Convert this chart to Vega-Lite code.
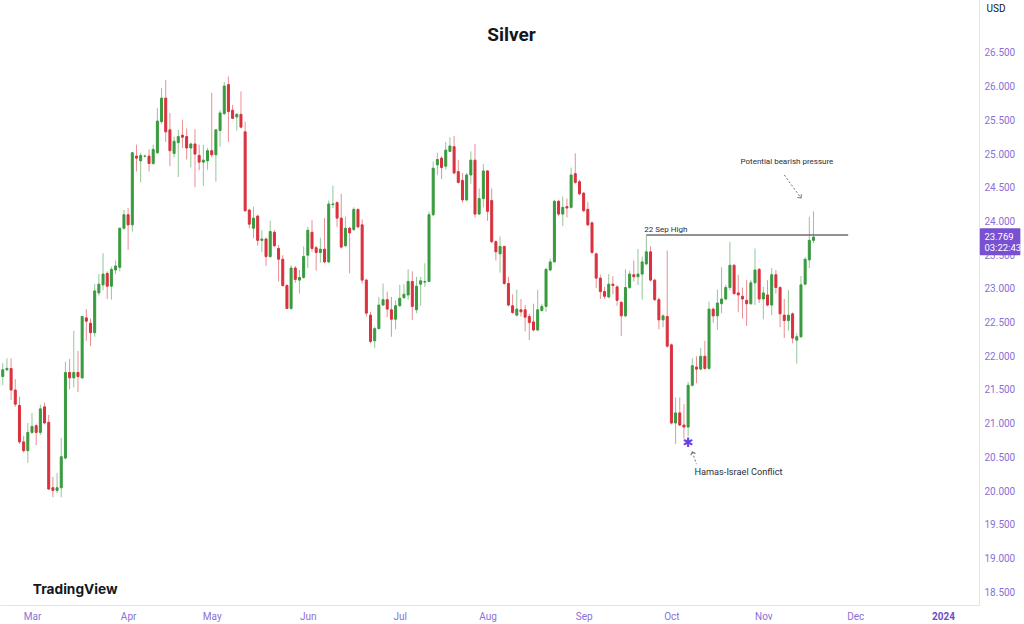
{
"$schema": "https://vega.github.io/schema/vega-lite/v6.json",
"width": 979, "height": 605,
"autosize": {"type": "none"},
"padding": {"left": 0, "top": 0, "right": 45, "bottom": 19},
"background": "#ffffff",
"config": {"view": {"stroke": null}, "font": "Roboto", "scale": {"continuousPadding": 0}, "axis": {"labelOverlap": false, "labelFlush": false, "ticks": false, "grid": false, "labelSeparation": 0}},
"title": {"text": "Silver", "fontSize": 19, "fontWeight": "bold", "font": "Roboto", "color": "#131722", "anchor": "middle", "frame": "group", "offset": 0, "dx": 22, "dy": 60, "baseline": "alphabetic"},
"data": {"values": [
{"d":"2023-02-17","o":21.55,"h":21.75,"l":21.50,"c":21.70},
{"d":"2023-02-20","o":21.70,"h":21.90,"l":21.57,"c":21.80},
{"d":"2023-02-21","o":21.80,"h":21.97,"l":21.78,"c":21.82},
{"d":"2023-02-22","o":21.82,"h":21.97,"l":21.35,"c":21.50},
{"d":"2023-02-23","o":21.50,"h":21.66,"l":21.25,"c":21.29},
{"d":"2023-02-24","o":21.27,"h":21.40,"l":20.70,"c":20.73},
{"d":"2023-02-27","o":20.73,"h":20.82,"l":20.57,"c":20.60},
{"d":"2023-02-28","o":20.60,"h":21.01,"l":20.42,"c":20.87},
{"d":"2023-03-01","o":20.87,"h":21.16,"l":20.85,"c":20.96},
{"d":"2023-03-02","o":20.97,"h":21.00,"l":20.68,"c":20.87},
{"d":"2023-03-03","o":20.87,"h":21.28,"l":20.83,"c":21.22},
{"d":"2023-03-06","o":21.25,"h":21.31,"l":20.99,"c":21.01},
{"d":"2023-03-07","o":21.02,"h":21.13,"l":20.02,"c":20.03},
{"d":"2023-03-08","o":20.05,"h":20.21,"l":19.91,"c":20.01},
{"d":"2023-03-09","o":20.01,"h":20.27,"l":19.97,"c":20.05},
{"d":"2023-03-10","o":20.05,"h":20.79,"l":19.91,"c":20.51},
{"d":"2023-03-13","o":20.49,"h":21.92,"l":20.47,"c":21.76},
{"d":"2023-03-14","o":21.76,"h":21.96,"l":21.51,"c":21.68},
{"d":"2023-03-15","o":21.68,"h":22.38,"l":21.54,"c":21.76},
{"d":"2023-03-16","o":21.76,"h":22.08,"l":21.47,"c":21.70},
{"d":"2023-03-17","o":21.68,"h":22.60,"l":21.66,"c":22.59},
{"d":"2023-03-20","o":22.57,"h":22.70,"l":22.23,"c":22.52},
{"d":"2023-03-21","o":22.49,"h":22.56,"l":22.15,"c":22.35},
{"d":"2023-03-22","o":22.35,"h":23.07,"l":22.29,"c":22.97},
{"d":"2023-03-23","o":22.94,"h":23.22,"l":22.90,"c":23.07},
{"d":"2023-03-24","o":23.06,"h":23.53,"l":22.98,"c":23.22},
{"d":"2023-03-27","o":23.23,"h":23.26,"l":22.85,"c":23.04},
{"d":"2023-03-28","o":23.04,"h":23.33,"l":22.84,"c":23.29},
{"d":"2023-03-29","o":23.28,"h":23.42,"l":23.22,"c":23.34},
{"d":"2023-03-30","o":23.32,"h":23.91,"l":23.26,"c":23.90},
{"d":"2023-03-31","o":23.90,"h":24.17,"l":23.88,"c":24.10},
{"d":"2023-04-03","o":24.10,"h":24.20,"l":23.58,"c":23.95},
{"d":"2023-04-04","o":23.95,"h":25.03,"l":23.85,"c":25.02},
{"d":"2023-04-05","o":24.97,"h":25.14,"l":24.74,"c":24.94},
{"d":"2023-04-06","o":24.90,"h":25.02,"l":24.58,"c":24.98},
{"d":"2023-04-07","o":24.97,"h":24.99,"l":24.95,"c":24.97},
{"d":"2023-04-10","o":24.97,"h":25.07,"l":24.74,"c":24.86},
{"d":"2023-04-11","o":24.86,"h":25.14,"l":24.84,"c":25.07},
{"d":"2023-04-12","o":25.02,"h":25.68,"l":25.00,"c":25.49},
{"d":"2023-04-13","o":25.48,"h":25.98,"l":25.45,"c":25.83},
{"d":"2023-04-14","o":25.83,"h":26.10,"l":25.18,"c":25.33},
{"d":"2023-04-17","o":25.36,"h":25.61,"l":24.82,"c":25.05},
{"d":"2023-04-18","o":25.01,"h":25.26,"l":24.95,"c":25.19},
{"d":"2023-04-19","o":25.17,"h":25.36,"l":24.66,"c":25.26},
{"d":"2023-04-20","o":25.28,"h":25.51,"l":25.09,"c":25.25},
{"d":"2023-04-21","o":25.26,"h":25.38,"l":24.92,"c":25.09},
{"d":"2023-04-24","o":25.09,"h":25.17,"l":24.80,"c":25.15},
{"d":"2023-04-25","o":25.15,"h":25.37,"l":24.51,"c":25.00},
{"d":"2023-04-26","o":24.98,"h":25.14,"l":24.76,"c":24.88},
{"d":"2023-04-27","o":24.88,"h":25.14,"l":24.53,"c":24.91},
{"d":"2023-04-28","o":24.90,"h":25.09,"l":24.77,"c":25.05},
{"d":"2023-05-01","o":25.05,"h":25.91,"l":24.95,"c":24.99},
{"d":"2023-05-02","o":24.99,"h":25.37,"l":24.59,"c":25.36},
{"d":"2023-05-03","o":25.35,"h":25.65,"l":25.11,"c":25.61},
{"d":"2023-05-04","o":25.60,"h":26.07,"l":25.58,"c":26.01},
{"d":"2023-05-05","o":26.03,"h":26.15,"l":25.18,"c":25.63},
{"d":"2023-05-08","o":25.65,"h":25.73,"l":25.52,"c":25.53},
{"d":"2023-05-09","o":25.55,"h":25.61,"l":25.35,"c":25.59},
{"d":"2023-05-10","o":25.59,"h":25.93,"l":25.38,"c":25.40},
{"d":"2023-05-11","o":25.33,"h":25.48,"l":24.14,"c":24.16},
{"d":"2023-05-12","o":24.17,"h":24.19,"l":23.90,"c":23.96},
{"d":"2023-05-15","o":23.90,"h":24.22,"l":23.75,"c":24.05},
{"d":"2023-05-16","o":24.08,"h":24.10,"l":23.64,"c":23.72},
{"d":"2023-05-17","o":23.72,"h":23.87,"l":23.55,"c":23.74},
{"d":"2023-05-18","o":23.74,"h":23.76,"l":23.34,"c":23.48},
{"d":"2023-05-19","o":23.48,"h":24.01,"l":23.46,"c":23.85},
{"d":"2023-05-22","o":23.84,"h":23.87,"l":23.62,"c":23.64},
{"d":"2023-05-23","o":23.60,"h":23.65,"l":23.11,"c":23.44},
{"d":"2023-05-24","o":23.44,"h":23.50,"l":23.03,"c":23.05},
{"d":"2023-05-25","o":23.05,"h":23.07,"l":22.70,"c":22.71},
{"d":"2023-05-26","o":22.71,"h":23.35,"l":22.69,"c":23.31},
{"d":"2023-05-29","o":23.31,"h":23.34,"l":23.09,"c":23.14},
{"d":"2023-05-30","o":23.13,"h":23.28,"l":22.93,"c":23.17},
{"d":"2023-05-31","o":23.17,"h":23.63,"l":23.15,"c":23.48},
{"d":"2023-06-01","o":23.50,"h":23.92,"l":23.31,"c":23.87},
{"d":"2023-06-02","o":23.84,"h":24.02,"l":23.55,"c":23.60},
{"d":"2023-06-05","o":23.61,"h":23.64,"l":23.27,"c":23.54},
{"d":"2023-06-06","o":23.54,"h":23.76,"l":23.39,"c":23.59},
{"d":"2023-06-07","o":23.59,"h":24.05,"l":23.38,"c":23.40},
{"d":"2023-06-08","o":23.40,"h":24.31,"l":23.38,"c":24.26},
{"d":"2023-06-09","o":24.25,"h":24.53,"l":24.20,"c":24.26},
{"d":"2023-06-12","o":24.28,"h":24.30,"l":23.92,"c":24.05},
{"d":"2023-06-13","o":24.05,"h":24.41,"l":23.60,"c":23.62},
{"d":"2023-06-14","o":23.64,"h":24.07,"l":23.62,"c":23.90},
{"d":"2023-06-15","o":23.90,"h":23.92,"l":23.23,"c":23.83},
{"d":"2023-06-16","o":23.88,"h":24.21,"l":23.86,"c":24.18},
{"d":"2023-06-19","o":24.18,"h":24.19,"l":23.90,"c":23.92},
{"d":"2023-06-20","o":23.95,"h":24.03,"l":23.08,"c":23.13},
{"d":"2023-06-21","o":23.13,"h":23.15,"l":22.59,"c":22.64},
{"d":"2023-06-22","o":22.61,"h":22.66,"l":22.19,"c":22.22},
{"d":"2023-06-23","o":22.23,"h":22.44,"l":22.12,"c":22.41},
{"d":"2023-06-26","o":22.41,"h":22.88,"l":22.40,"c":22.76},
{"d":"2023-06-27","o":22.76,"h":23.08,"l":22.75,"c":22.84},
{"d":"2023-06-28","o":22.84,"h":22.96,"l":22.58,"c":22.70},
{"d":"2023-06-29","o":22.69,"h":22.88,"l":22.29,"c":22.55},
{"d":"2023-06-30","o":22.55,"h":22.83,"l":22.40,"c":22.75},
{"d":"2023-07-03","o":22.75,"h":23.06,"l":22.73,"c":22.86},
{"d":"2023-07-04","o":22.87,"h":23.07,"l":22.85,"c":22.92},
{"d":"2023-07-05","o":22.91,"h":23.29,"l":22.84,"c":23.11},
{"d":"2023-07-06","o":23.11,"h":23.26,"l":22.54,"c":22.74},
{"d":"2023-07-07","o":22.69,"h":23.18,"l":22.64,"c":23.04},
{"d":"2023-07-10","o":23.07,"h":23.18,"l":22.75,"c":23.12},
{"d":"2023-07-11","o":23.10,"h":23.38,"l":23.03,"c":23.11},
{"d":"2023-07-12","o":23.11,"h":24.15,"l":23.10,"c":24.10},
{"d":"2023-07-13","o":24.10,"h":24.89,"l":24.08,"c":24.79},
{"d":"2023-07-14","o":24.84,"h":25.02,"l":24.69,"c":24.92},
{"d":"2023-07-17","o":24.94,"h":24.97,"l":24.63,"c":24.80},
{"d":"2023-07-18","o":24.82,"h":25.18,"l":24.77,"c":25.06},
{"d":"2023-07-19","o":25.04,"h":25.25,"l":25.03,"c":25.12},
{"d":"2023-07-20","o":25.11,"h":25.27,"l":24.70,"c":24.72},
{"d":"2023-07-21","o":24.74,"h":24.91,"l":24.56,"c":24.58},
{"d":"2023-07-24","o":24.61,"h":24.72,"l":24.28,"c":24.32},
{"d":"2023-07-25","o":24.32,"h":24.72,"l":24.30,"c":24.69},
{"d":"2023-07-26","o":24.69,"h":25.04,"l":24.56,"c":24.91},
{"d":"2023-07-27","o":24.91,"h":25.15,"l":24.06,"c":24.11},
{"d":"2023-07-28","o":24.11,"h":24.49,"l":24.10,"c":24.34},
{"d":"2023-07-31","o":24.34,"h":24.85,"l":24.21,"c":24.75},
{"d":"2023-08-01","o":24.75,"h":24.76,"l":24.01,"c":24.15},
{"d":"2023-08-02","o":24.31,"h":24.49,"l":23.68,"c":23.70},
{"d":"2023-08-03","o":23.70,"h":23.72,"l":23.42,"c":23.55},
{"d":"2023-08-04","o":23.52,"h":23.78,"l":23.24,"c":23.63},
{"d":"2023-08-07","o":23.63,"h":23.64,"l":23.06,"c":23.08},
{"d":"2023-08-08","o":23.08,"h":23.18,"l":22.74,"c":22.76},
{"d":"2023-08-09","o":22.75,"h":22.92,"l":22.63,"c":22.65},
{"d":"2023-08-10","o":22.61,"h":22.99,"l":22.59,"c":22.70},
{"d":"2023-08-11","o":22.69,"h":22.85,"l":22.59,"c":22.66},
{"d":"2023-08-14","o":22.69,"h":22.76,"l":22.37,"c":22.58},
{"d":"2023-08-15","o":22.59,"h":22.63,"l":22.24,"c":22.50},
{"d":"2023-08-16","o":22.51,"h":22.78,"l":22.37,"c":22.39},
{"d":"2023-08-17","o":22.39,"h":22.99,"l":22.37,"c":22.69},
{"d":"2023-08-18","o":22.68,"h":22.78,"l":22.66,"c":22.74},
{"d":"2023-08-21","o":22.74,"h":23.31,"l":22.66,"c":23.29},
{"d":"2023-08-22","o":23.28,"h":23.45,"l":23.26,"c":23.40},
{"d":"2023-08-23","o":23.40,"h":24.32,"l":23.40,"c":24.30},
{"d":"2023-08-24","o":24.30,"h":24.32,"l":24.08,"c":24.11},
{"d":"2023-08-25","o":24.11,"h":24.37,"l":23.93,"c":24.21},
{"d":"2023-08-28","o":24.22,"h":24.34,"l":24.06,"c":24.20},
{"d":"2023-08-29","o":24.21,"h":24.80,"l":24.19,"c":24.69},
{"d":"2023-08-30","o":24.71,"h":25.01,"l":24.56,"c":24.58},
{"d":"2023-08-31","o":24.59,"h":24.62,"l":24.39,"c":24.41},
{"d":"2023-09-01","o":24.42,"h":24.44,"l":24.14,"c":24.16},
{"d":"2023-09-04","o":24.18,"h":24.29,"l":23.93,"c":23.95},
{"d":"2023-09-05","o":23.98,"h":24.00,"l":23.52,"c":23.54},
{"d":"2023-09-06","o":23.52,"h":23.54,"l":23.01,"c":23.16},
{"d":"2023-09-07","o":23.16,"h":23.21,"l":22.85,"c":22.96},
{"d":"2023-09-08","o":22.96,"h":23.03,"l":22.85,"c":22.89},
{"d":"2023-09-11","o":22.88,"h":23.22,"l":22.86,"c":23.07},
{"d":"2023-09-12","o":23.07,"h":23.19,"l":22.92,"c":23.05},
{"d":"2023-09-13","o":23.03,"h":23.05,"l":22.75,"c":22.83},
{"d":"2023-09-14","o":22.80,"h":22.82,"l":22.30,"c":22.60},
{"d":"2023-09-15","o":22.60,"h":23.29,"l":22.58,"c":23.02},
{"d":"2023-09-18","o":23.02,"h":23.27,"l":23.00,"c":23.22},
{"d":"2023-09-19","o":23.21,"h":23.42,"l":23.11,"c":23.18},
{"d":"2023-09-20","o":23.18,"h":23.59,"l":23.06,"c":23.22},
{"d":"2023-09-21","o":23.22,"h":23.48,"l":22.84,"c":23.40},
{"d":"2023-09-22","o":23.37,"h":23.80,"l":23.35,"c":23.55,"note":"22 Sep High","ny":23.87},
{"d":"2023-09-25","o":23.55,"h":23.63,"l":23.11,"c":23.13},
{"d":"2023-09-26","o":23.13,"h":23.15,"l":22.82,"c":22.84},
{"d":"2023-09-27","o":22.84,"h":22.87,"l":22.40,"c":22.54},
{"d":"2023-09-28","o":22.54,"h":22.62,"l":22.43,"c":22.60},
{"d":"2023-09-29","o":22.59,"h":23.57,"l":22.13,"c":22.15},
{"d":"2023-10-02","o":22.17,"h":22.19,"l":20.99,"c":21.01},
{"d":"2023-10-03","o":21.01,"h":21.39,"l":20.70,"c":21.16},
{"d":"2023-10-04","o":21.16,"h":21.39,"l":20.96,"c":20.98},
{"d":"2023-10-05","o":20.98,"h":21.29,"l":20.78,"c":20.95},
{"d":"2023-10-06","o":20.95,"h":21.62,"l":20.81,"c":21.57,"event":"Hamas-Israel Conflict"},
{"d":"2023-10-09","o":21.57,"h":21.97,"l":21.55,"c":21.86,"a1":20.58},
{"d":"2023-10-10","o":21.84,"h":22.00,"l":21.60,"c":21.81,"a1":20.40,"note":"Hamas-Israel Conflict","ny":20.28},
{"d":"2023-10-11","o":21.81,"h":22.12,"l":21.79,"c":22.00},
{"d":"2023-10-12","o":22.00,"h":22.23,"l":21.80,"c":21.82},
{"d":"2023-10-13","o":21.82,"h":22.81,"l":21.80,"c":22.70},
{"d":"2023-10-16","o":22.70,"h":22.72,"l":22.50,"c":22.60},
{"d":"2023-10-17","o":22.60,"h":22.99,"l":22.39,"c":22.79},
{"d":"2023-10-18","o":22.78,"h":23.32,"l":22.64,"c":22.85},
{"d":"2023-10-19","o":22.85,"h":23.06,"l":22.83,"c":23.02},
{"d":"2023-10-20","o":23.02,"h":23.70,"l":22.98,"c":23.35},
{"d":"2023-10-23","o":23.35,"h":23.37,"l":22.91,"c":22.93},
{"d":"2023-10-24","o":22.94,"h":23.21,"l":22.66,"c":22.91},
{"d":"2023-10-25","o":22.89,"h":23.02,"l":22.56,"c":22.85,"note":"Potential bearish pressure","ny":24.88},
{"d":"2023-10-26","o":22.83,"h":23.13,"l":22.45,"c":22.78},
{"d":"2023-10-27","o":22.78,"h":23.13,"l":22.76,"c":23.09},
{"d":"2023-10-30","o":23.09,"h":23.60,"l":22.76,"c":23.28},
{"d":"2023-10-31","o":23.29,"h":23.31,"l":22.79,"c":22.85},
{"d":"2023-11-01","o":22.85,"h":23.03,"l":22.55,"c":22.94},
{"d":"2023-11-02","o":22.91,"h":23.13,"l":22.74,"c":22.76},
{"d":"2023-11-03","o":22.76,"h":23.31,"l":22.61,"c":23.21},
{"d":"2023-11-06","o":23.21,"h":23.28,"l":22.93,"c":23.02},
{"d":"2023-11-07","o":23.02,"h":23.04,"l":22.43,"c":22.63},
{"d":"2023-11-08","o":22.61,"h":22.85,"l":22.27,"c":22.53,"a2":24.69},
{"d":"2023-11-09","o":22.53,"h":22.98,"l":22.38,"c":22.61},
{"d":"2023-11-10","o":22.63,"h":22.65,"l":22.19,"c":22.27},
{"d":"2023-11-13","o":22.24,"h":22.34,"l":21.89,"c":22.29},
{"d":"2023-11-14","o":22.29,"h":23.19,"l":22.27,"c":23.06,"a2":24.35},
{"d":"2023-11-15","o":23.07,"h":23.47,"l":23.05,"c":23.44},
{"d":"2023-11-16","o":23.43,"h":24.07,"l":23.31,"c":23.72},
{"d":"2023-11-17","o":23.72,"h":24.15,"l":23.68,"c":23.769}
]},
"transform": [{"window": [{"op": "row_number", "as": "n"}], "sort": [{"field": "d", "order": "ascending"}]}],
"layer": [
{"mark": {"type": "rule", "strokeWidth": 1, "opacity": 0.55, "clip": true},
 "encoding": {
  "x": {"field": "n", "type": "quantitative",
   "scale": {"domain": [1.343, 235.6], "nice": false, "zero": false, "padding": 0},
   "axis": {"orient": "bottom", "title": null, "grid": false, "ticks": false, "tickCount": 30,
     "values": [9, 32, 52, 75, 97, 118, 141, 162, 184, 206, 227],
     "labelExpr": "datum.value==9?'Mar':datum.value==32?'Apr':datum.value==52?'May':datum.value==75?'Jun':datum.value==97?'Jul':datum.value==118?'Aug':datum.value==141?'Sep':datum.value==162?'Oct':datum.value==184?'Nov':datum.value==206?'Dec':'2024'",
     "labelFontWeight": {"condition": {"test": "datum.value==227", "value": "bold"}, "value": "normal"},
     "labelColor": {"condition": {"test": "datum.value==227", "value": "#6a4fc4"}, "value": "#8a6fd8"},
     "labelFontSize": 10, "labelFont": "Roboto", "labelPadding": 6, "labelFlush": false, "labelOverlap": false,
     "domainColor": "#e0e3eb", "domainWidth": 1}},
  "y": {"field": "l", "type": "quantitative",
   "scale": {"domain": [18.31, 27.286], "nice": false, "zero": false, "padding": 0},
   "axis": {"orient": "right", "grid": false, "ticks": false, "tickCount": 30,
     "values": [18.5, 19, 19.5, 20, 20.5, 21, 21.5, 22, 22.5, 23, 23.5, 24, 24.5, 25, 25.5, 26, 26.5],
     "labelExpr": "format(datum.value, '.3f')", "labelColor": "#8a6fd8", "labelFontSize": 10, "labelFont": "Roboto", "labelPadding": 5,
     "labelFlush": false, "labelOverlap": false, "labelSeparation": 0, "labelBound": false, "domainColor": "#e0e3eb", "domainWidth": 1,
     "title": "USD", "titleAngle": 0, "titleX": 7, "titleY": 3, "titleAlign": "left", "titleBaseline": "top",
     "titleFontSize": 10, "titleFontWeight": "normal", "titleColor": "#131722", "titleFont": "Roboto"}},
  "y2": {"field": "h"},
  "color": {"condition": {"test": "datum.c >= datum.o", "value": "#399a3f"}, "value": "#d9313d"}
 }},
{"mark": {"type": "bar", "size": 2, "strokeWidth": 1, "clip": true},
 "encoding": {
  "x": {"field": "n", "type": "quantitative", "scale": {"domain": [1.343, 235.6], "nice": false, "zero": false, "padding": 0}},
  "y": {"field": "o", "type": "quantitative", "scale": {"domain": [18.31, 27.286], "nice": false, "zero": false, "padding": 0}},
  "y2": {"field": "c"},
  "color": {"condition": {"test": "datum.c >= datum.o", "value": "#399a3f"}, "value": "#d9313d"},
  "stroke": {"condition": {"test": "datum.c >= datum.o", "value": "#399a3f"}, "value": "#d9313d"}
 }},
{"transform": [{"filter": "datum.d == '2023-09-22'"}],
 "mark": {"type": "rule", "color": "#6e6e6e", "strokeWidth": 1.5},
 "encoding": {
  "x": {"field": "n", "type": "quantitative", "scale": {"domain": [1.343, 235.6], "nice": false, "zero": false, "padding": 0}},
  "x2": {"datum": 204.3},
  "y": {"field": "h", "type": "quantitative", "scale": {"domain": [18.31, 27.286], "nice": false, "zero": false, "padding": 0}}
 }},
{"transform": [{"filter": "isValid(datum.note)"}],
 "mark": {"type": "text", "align": "left", "baseline": "middle", "dx": -2, "font": "Roboto", "color": "#2a2e39"},
 "encoding": {
  "x": {"field": "n", "type": "quantitative", "scale": {"domain": [1.343, 235.6], "nice": false, "zero": false, "padding": 0}},
  "y": {"field": "ny", "type": "quantitative", "scale": {"domain": [18.31, 27.286], "nice": false, "zero": false, "padding": 0}},
  "text": {"field": "note"},
  "size": {"condition": {"test": "datum.d == '2023-10-10'", "value": 9.2}, "value": 8}
 }},
{"transform": [{"filter": "isValid(datum.event)"}],
 "mark": {"type": "text", "text": "\u2731", "align": "center", "baseline": "middle", "dy": 7, "fontSize": 13, "font": "DejaVu Sans", "color": "#6b3fe6"},
 "encoding": {
  "x": {"field": "n", "type": "quantitative", "scale": {"domain": [1.343, 235.6], "nice": false, "zero": false, "padding": 0}},
  "y": {"field": "l", "type": "quantitative", "scale": {"domain": [18.31, 27.286], "nice": false, "zero": false, "padding": 0}}
 }},
{"transform": [{"filter": "isValid(datum.a1)"}],
 "mark": {"type": "line", "strokeDash": [2, 2], "strokeWidth": 1, "color": "#6e6e6e"},
 "encoding": {
  "x": {"field": "n", "type": "quantitative", "scale": {"domain": [1.343, 235.6], "nice": false, "zero": false, "padding": 0}},
  "y": {"field": "a1", "type": "quantitative", "scale": {"domain": [18.31, 27.286], "nice": false, "zero": false, "padding": 0}}
 }},
{"transform": [{"filter": "isValid(datum.a2)"}],
 "mark": {"type": "line", "strokeDash": [2, 2], "strokeWidth": 1, "color": "#6e6e6e"},
 "encoding": {
  "x": {"field": "n", "type": "quantitative", "scale": {"domain": [1.343, 235.6], "nice": false, "zero": false, "padding": 0}},
  "y": {"field": "a2", "type": "quantitative", "scale": {"domain": [18.31, 27.286], "nice": false, "zero": false, "padding": 0}}
 }},
{"transform": [{"filter": "datum.d == '2023-10-09'"}],
 "mark": {"type": "point", "shape": "M -1 1 L 0 0 L 1 1", "filled": false, "size": 25, "strokeWidth": 1, "color": "#6e6e6e", "angle": -19, "opacity": 1},
 "encoding": {
  "x": {"field": "n", "type": "quantitative", "scale": {"domain": [1.343, 235.6], "nice": false, "zero": false, "padding": 0}},
  "y": {"field": "a1", "type": "quantitative", "scale": {"domain": [18.31, 27.286], "nice": false, "zero": false, "padding": 0}}
 }},
{"transform": [{"filter": "datum.d == '2023-11-14'"}],
 "mark": {"type": "point", "shape": "M -1 1 L 0 0 L 1 1", "filled": false, "size": 25, "strokeWidth": 1, "color": "#6e6e6e", "angle": 143, "opacity": 1},
 "encoding": {
  "x": {"field": "n", "type": "quantitative", "scale": {"domain": [1.343, 235.6], "nice": false, "zero": false, "padding": 0}},
  "y": {"field": "a2", "type": "quantitative", "scale": {"domain": [18.31, 27.286], "nice": false, "zero": false, "padding": 0}}
 }},
{"data": {"values": [{"price": 23.769, "top": 23.90, "bottom": 23.50}]},
 "mark": {"type": "rect", "color": "#7850d2", "cornerRadius": 1},
 "encoding": {
  "x": {"datum": 235.8, "type": "quantitative", "scale": {"domain": [1.343, 235.6], "nice": false, "zero": false, "padding": 0}},
  "x2": {"datum": 245.5},
  "y": {"field": "top", "type": "quantitative", "scale": {"domain": [18.31, 27.286], "nice": false, "zero": false, "padding": 0}},
  "y2": {"field": "bottom"}
 }},
{"data": {"values": [{"price": 23.769, "label": "23.769"}]},
 "mark": {"type": "text", "align": "left", "baseline": "middle", "fontSize": 9.5, "font": "Roboto", "color": "#ffffff", "dy": 0},
 "encoding": {
  "x": {"datum": 236.9, "type": "quantitative", "scale": {"domain": [1.343, 235.6], "nice": false, "zero": false, "padding": 0}},
  "y": {"field": "price", "type": "quantitative", "scale": {"domain": [18.31, 27.286], "nice": false, "zero": false, "padding": 0}},
  "text": {"field": "label"}
 }},
{"data": {"values": [{"price": 23.769, "label": "03:22:43"}]},
 "mark": {"type": "text", "align": "left", "baseline": "middle", "fontSize": 9.5, "font": "Roboto", "color": "#ffffff", "dy": 11},
 "encoding": {
  "x": {"datum": 236.9, "type": "quantitative", "scale": {"domain": [1.343, 235.6], "nice": false, "zero": false, "padding": 0}},
  "y": {"field": "price", "type": "quantitative", "scale": {"domain": [18.31, 27.286], "nice": false, "zero": false, "padding": 0}},
  "text": {"field": "label"}
 }},
{"data": {"values": [{"label": "TradingView", "price": 18.53}]},
 "mark": {"type": "text", "align": "left", "baseline": "middle", "fontSize": 13.7, "fontWeight": "bold", "font": "Inter", "color": "#131722"},
 "encoding": {
  "x": {"datum": 9.2, "type": "quantitative", "scale": {"domain": [1.343, 235.6], "nice": false, "zero": false, "padding": 0}},
  "y": {"field": "price", "type": "quantitative", "scale": {"domain": [18.31, 27.286], "nice": false, "zero": false, "padding": 0}},
  "text": {"field": "label"}
 }}
]
}
